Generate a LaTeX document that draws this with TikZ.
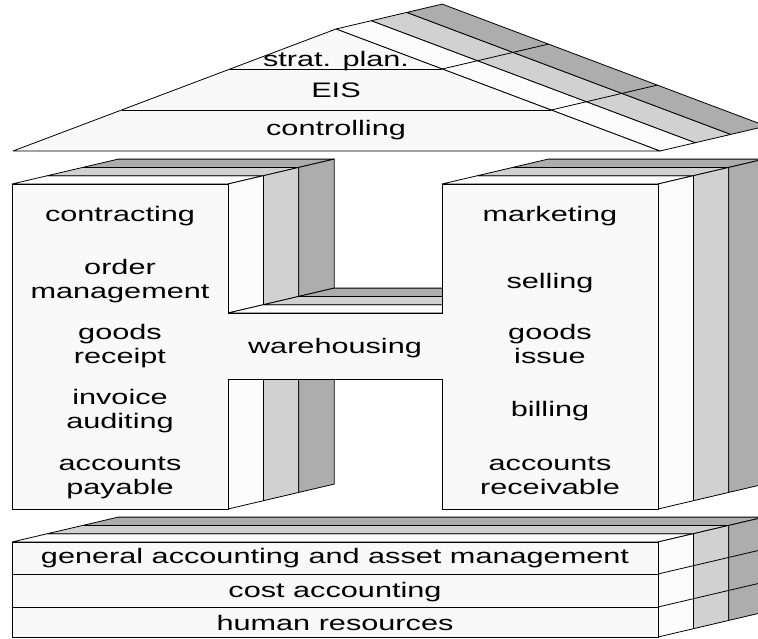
\documentclass[tikz,border=0pt]{standalone}
\usepackage{fontspec}
\setmainfont[FakeStretch=1.46]{Liberation Sans}
\usetikzlibrary{calc}
\definecolor{frontc}{HTML}{F9F9F9}
\definecolor{layA}{HTML}{FCFCFC}
\definecolor{layB}{HTML}{D1D1D1}
\definecolor{layC}{HTML}{ADADAD}
\def\ddx{35.4}
\def\ddy{-8.3}
% three depth strips swept back from the edge (#1,#2)-(#3,#4)
\newcommand\extr[4]{%
  \foreach \kk/\cc in {1/layA,2/layB,3/layC}{%
    \pgfmathsetmacro\xa{#1+(\kk-1)*\ddx}\pgfmathsetmacro\ya{#2+(\kk-1)*\ddy}%
    \pgfmathsetmacro\xb{#3+(\kk-1)*\ddx}\pgfmathsetmacro\yb{#4+(\kk-1)*\ddy}%
    \pgfmathsetmacro\xc{#3+\kk*\ddx}\pgfmathsetmacro\yc{#4+\kk*\ddy}%
    \pgfmathsetmacro\xd{#1+\kk*\ddx}\pgfmathsetmacro\yd{#2+\kk*\ddy}%
    \filldraw[face, fill=\cc] (\xa,\ya) -- (\xb,\yb) -- (\xc,\yc) -- (\xd,\yd) -- cycle;
  }}
\begin{document}
\begin{tikzpicture}[x=1pt,y=-1pt,
  face/.style={draw=black, line width=0.8pt, line join=round},
  lbl/.style={font=\fontsize{21}{24}\selectfont, inner sep=0pt, anchor=base, align=center}]
\useasboundingbox (0,0) rectangle (758,638);
\clip (0,0) rectangle (758,638);
\fill[white] (0,0) rectangle (758,638);

% ---------- roof ----------
\extr{336}{29}{660}{151}
\draw[face] (442.2,69) -- ++(106.2,-24.9);
\draw[face] (551.1,110) -- ++(106.2,-24.9);
\filldraw[face, fill=frontc] (13,151) -- (336,29) -- (660,151) -- cycle;
\draw[face] (230.1,69) -- (442.2,69);
\draw[face] (121.5,110) -- (551.1,110);
\node[lbl] (strat) at (336,66) {strat. plan.};
\node[lbl] (eis) at (336,97) {EIS};
\node[lbl] (ctrl) at (336,135) {controlling};

% ---------- H (columns and warehousing bar) ----------
\extr{12}{184}{228}{184}
\extr{228}{184}{228}{313}
\extr{228}{313}{442}{313}
\extr{228}{379}{228}{509}
\extr{442}{184}{658}{184}
\extr{658}{184}{658}{509}
\filldraw[face, fill=frontc] (12,184) -- (228,184) -- (228,313) -- (442,313) -- (442,184)
  -- (658,184) -- (658,509) -- (442,509) -- (442,379) -- (228,379) -- (228,509) -- (12,509) -- cycle;

% (for two-line labels the base anchor is the baseline of the last line)
\node[lbl] (contr) at (120,221) {contracting};
\node[lbl] (order) at (120,298) {order\\management};
\node[lbl] (grec) at (120,363) {goods\\receipt};
\node[lbl] (inv) at (120,428) {invoice\\auditing};
\node[lbl] (pay) at (120,494) {accounts\\payable};

\node[lbl] (mkt) at (550,221) {marketing};
\node[lbl] (sell) at (550,288) {selling};
\node[lbl] (giss) at (550,363) {goods\\issue};
\node[lbl] (bill) at (550,416) {billing};
\node[lbl] (rec) at (550,494) {accounts\\receivable};

\node[lbl] (wh) at (335,353) {warehousing};

% ---------- base slab ----------
\extr{12}{542}{658}{542}
\extr{658}{542}{658}{637}
\draw[face] (658,574) -- ++(106.2,-24.9);
\draw[face] (658,607) -- ++(106.2,-24.9);
\filldraw[face, fill=frontc] (12,542) rectangle (658,637);
\draw[face] (12,574) -- (658,574);
\draw[face] (12,607) -- (658,607);
\node[lbl] (gen) at (335,563) {general accounting and asset management};
\node[lbl] (cost) at (335,597) {cost accounting};
\node[lbl] (hr) at (335,630) {human resources};
\end{tikzpicture}
\end{document}
